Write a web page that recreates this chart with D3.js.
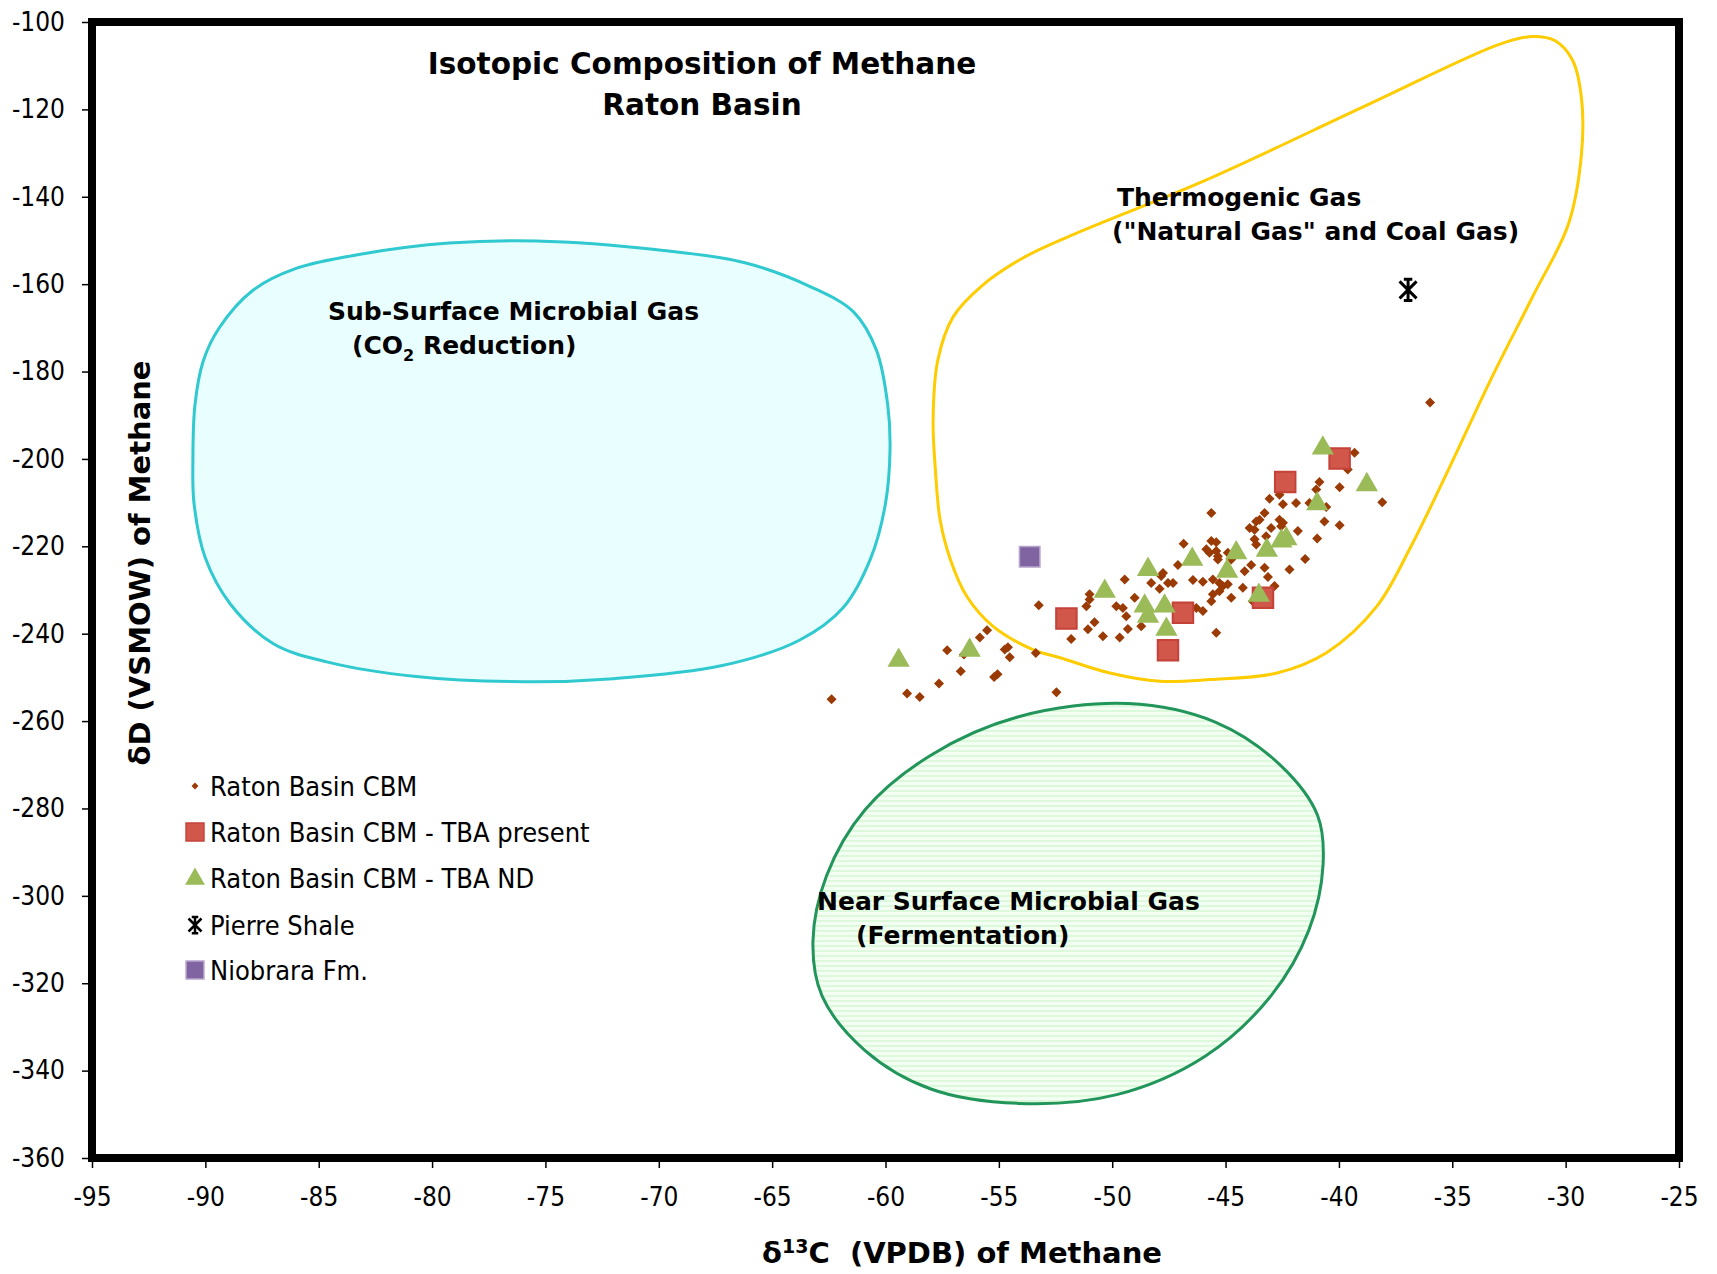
<!DOCTYPE html>
<html><head><meta charset="utf-8">
<script src="https://cdn.jsdelivr.net/npm/d3@7"></script>
<style>body{margin:0;background:#fff}svg{display:block}</style>
</head><body>
<svg id="chart" width="1717" height="1274"></svg>
<script>
// ---- data ----
const xTicks = [-95,-90,-85,-80,-75,-70,-65,-60,-55,-50,-45,-40,-35,-30,-25];
const yTicks = [-100,-120,-140,-160,-180,-200,-220,-240,-260,-280,-300,-320,-340,-360];

const ratonCBM = [
[-39.31,-198.6],[-39.61,-202.4],[-40.86,-205.3],[-41.0,-207.0],[-39.97,-206.5],[-38.09,-209.9],[-43.06,-209.1],[-42.62,-208.2],
[-42.47,-210.4],[-41.89,-210.1],[-41.30,-210.1],[-40.56,-211.0],[-45.63,-212.4],[-43.28,-212.4],[-43.50,-213.9],[-43.65,-214.3],
[-43.94,-215.8],[-43.72,-216.2],[-42.99,-215.8],[-42.62,-213.9],[-42.47,-214.6],[-42.55,-215.4],[-41.81,-216.5],[-40.64,-214.3],
[-39.97,-215.2],[-43.21,-217.7],[-43.72,-218.4],[-43.65,-219.6],[-40.96,-218.2],[-46.85,-219.4],[-45.63,-218.8],[-45.41,-219.1],
[-45.85,-220.7],[-45.71,-221.5],[-45.41,-221.1],[-45.34,-222.3],[-45.34,-223.0],[-44.90,-221.5],[-47.10,-224.3],[-44.75,-223.0],
[-43.87,-224.3],[-44.16,-225.7],[-43.28,-224.9],[-43.13,-227.0],[-42.18,-225.3],[-41.49,-222.9],[-49.45,-227.6],[-47.76,-226.1],
[-47.84,-226.8],[-48.28,-228.4],[-47.54,-228.4],[-47.32,-228.4],[-46.44,-227.7],[-46.0,-228.1],[-45.56,-227.6],[-45.27,-228.4],
[-45.12,-229.1],[-44.9,-228.7],[-47.91,-229.7],[-45.56,-231.0],[-45.27,-230.3],[-44.24,-229.5],[-44.75,-231.8],[-45.63,-232.6],
[-43.80,-232.6],[-42.84,-229.1],[-51.0,-231.0],[-51.0,-232.2],[-51.14,-233.7],[-49.82,-233.7],[-49.53,-234.1],[-49.01,-231.8],
[-49.38,-236.0],[-46.29,-234.1],[-46.0,-234.8],[-50.78,-237.4],[-51.07,-239.0],[-50.41,-240.6],[-49.67,-240.9],[-49.31,-238.9],
[-48.72,-238.3],[-45.41,-239.8],[-51.81,-241.2],
[-62.38,-255.0],[-59.05,-253.7],[-58.49,-254.5],[-57.64,-251.4],[-56.68,-248.6],[-57.28,-243.8],[-55.84,-240.9],[-55.52,-239.2],
[-54.74,-243.6],[-54.6,-243.1],[-54.52,-245.4],[-55.21,-249.9],[-55.06,-249.3],[-53.37,-244.4],[-52.46,-253.4],[-53.24,-233.5],
[-56.54,-244.75],[-35.98,-187.1]
];
const tbaPresent = [[-52.02,-236.5],[-46.88,-235.2],[-47.54,-243.8],[-43.35,-231.8],[-42.37,-205.3],[-39.97,-199.9]];
const tbaND = [[-50.33,-230.3],[-48.42,-225.3],[-48.57,-233.7],[-48.42,-236.0],[-47.69,-233.7],[-47.61,-239.0],
  [-46.47,-223.0],[-44.93,-225.7],[-44.53,-221.5],[-43.53,-231.2],[-43.18,-220.9],[-42.54,-218.8],[-42.32,-218.3],
  [-40.96,-210.3],[-40.71,-197.5],[-38.77,-205.9],[-59.42,-246.1],[-56.29,-243.8]];
const pierreShale = [[-36.95,-161.3]];
const niobrara = [[-53.64,-222.4]];

// field outlines (data units)
const subSurfaceField = [[-75.4,-150.1],[-70.07,-152.1],[-66.2,-155.1],[-63.3,-160.6],[-61.4,-166.4],[-60.4,-175.1],
  [-59.9,-187.7],[-59.8,-197.7],[-60.0,-210.2],[-60.65,-222.7],[-61.86,-234.0],[-63.8,-241.5],[-67.2,-247.3],[-72.0,-250.3],
  [-75.9,-251.0],[-80.7,-249.8],[-84.6,-246.5],[-87.0,-242.3],[-88.9,-233.2],[-90.0,-222.7],[-90.5,-210.2],[-90.55,-200.2],
  [-90.46,-187.7],[-90.1,-177.7],[-89.4,-170.1],[-87.9,-161.4],[-86.0,-156.4],[-83.1,-153.1],[-79.25,-150.6]];
const thermogenicField = [[-31.43,-103.3],[-30.46,-104.3],[-29.69,-108.8],[-29.3,-117.5],[-29.3,-130.1],[-29.88,-146.3],
  [-31.43,-162.6],[-33.26,-181.4],[-35.1,-201.7],[-36.84,-220.2],[-38.33,-233.75],[-40.53,-244.3],
  [-42.73,-249.0],[-45.68,-250.5],[-47.9,-250.9],[-50.1,-249.0],[-52.3,-245.5],[-53.47,-243.7],[-55.24,-238.4],
  [-56.41,-231.5],[-57.14,-223.0],[-57.59,-214.0],[-57.8,-202.4],[-57.9,-191.1],[-57.7,-177.6],[-57.03,-167.6],
  [-55.8,-160.6],[-53.9,-153.9],[-51.7,-148.6],[-45.92,-136.3],[-38.67,-118.8],[-32.87,-105.0]];
const nearSurfaceField = [[-49.3,-256.0],[-45.43,-260.3],[-42.54,-270.3],[-40.94,-281.6],[-40.7,-292.9],[-41.33,-307.9],
  [-43.0,-322.9],[-45.9,-336.7],[-49.8,-345.5],[-54.13,-347.5],[-58.0,-344.2],[-60.9,-335.4],[-62.8,-322.9],[-63.2,-310.4],
  [-62.6,-295.4],[-60.9,-280.3],[-58.0,-267.8],[-54.13,-259.0]];

const legendLabels = ["Raton Basin CBM","Raton Basin CBM - TBA present","Raton Basin CBM - TBA ND","Pierre Shale","Niobrara Fm."];

// ---- drawing ----
const svg = d3.select("#chart");
const x = d3.scaleLinear().domain([-95,-25]).range([92,1679]);
const y = d3.scaleLinear().domain([-100,-360]).range([22,1158]);

const defs = svg.append("defs");
const pat = defs.append("pattern").attr("id","hatch").attr("patternUnits","userSpaceOnUse")
  .attr("width",8).attr("height",5);
pat.append("rect").attr("width",8).attr("height",5).attr("fill","#f3fff3");
pat.append("rect").attr("width",8).attr("height",2).attr("fill","#dcf9dc");

const line = d3.line().x(d=>x(d[0])).y(d=>y(d[1])).curve(d3.curveCatmullRomClosed.alpha(0.5));

svg.append("path").attr("d",line(subSurfaceField)).attr("fill","#e9fefe").attr("stroke","#2fc9cf").attr("stroke-width",3);
svg.append("path").attr("d",line(nearSurfaceField)).attr("fill","url(#hatch)").attr("stroke","#21955a").attr("stroke-width",3);
svg.append("path").attr("d",line(thermogenicField)).attr("fill","none").attr("stroke","#ffcc00").attr("stroke-width",3);

// frame
svg.append("rect").attr("x",x(-95)).attr("y",y(-100)).attr("width",x(-25)-x(-95)).attr("height",y(-360)-y(-100))
  .attr("fill","none").attr("stroke","#000").attr("stroke-width",8);

// axes
const tickFont = "'DejaVu Sans Condensed','DejaVu Sans',sans-serif";
const yAxis = svg.append("g").attr("transform","translate(88,0)")
  .call(d3.axisLeft(y).tickValues(yTicks).tickSize(6).tickPadding(17).tickFormat(d=>String(d)));
const xAxis = svg.append("g").attr("transform","translate(0,1162)")
  .call(d3.axisBottom(x).tickValues(xTicks).tickSize(6).tickPadding(20).tickFormat(d=>String(d)));
[yAxis,xAxis].forEach(g=>{
  g.select(".domain").remove();
  g.selectAll(".tick line").attr("stroke","#000").attr("stroke-width",1.5);
  g.selectAll(".tick text").attr("fill","#000").style("font-family",tickFont).style("font-size","26px");
});

// markers
const diamond = d3.symbol().type(d3.symbolSquare).size(50)();
const star = (s)=>`M${-s},${-s}L${s},${s}M${-s},${s}L${s},${-s}M0,${-s*1.25}L0,${s*1.25}M${-s*0.5},${-s*1.25}L${s*0.5},${-s*1.25}M${-s*0.5},${s*1.25}L${s*0.5},${s*1.25}`;

svg.append("g").selectAll("path").data(ratonCBM).join("path")
  .attr("d",diamond).attr("transform",d=>`translate(${x(d[0])},${y(d[1])}) rotate(45)`).attr("fill","#9a3a05");
svg.append("g").selectAll("path").data(niobrara).join("path")
  .attr("d",d3.symbol().type(d3.symbolSquare).size(420)()).attr("transform",d=>`translate(${x(d[0])},${y(d[1])})`)
  .attr("fill","#8064a2").attr("stroke","#b6a4cc").attr("stroke-width",1.5);
svg.append("g").selectAll("path").data(tbaPresent).join("path")
  .attr("d",d3.symbol().type(d3.symbolSquare).size(420)()).attr("transform",d=>`translate(${x(d[0])},${y(d[1])})`)
  .attr("fill","#d1574a").attr("stroke","#c44238").attr("stroke-width",2);
svg.append("g").selectAll("path").data(tbaND).join("path")
  .attr("d",d3.symbol().type(d3.symbolTriangle).size(215)()).attr("transform",d=>`translate(${x(d[0])},${y(d[1])})`)
  .attr("fill","#9bbb59");
svg.append("g").selectAll("path").data(pierreShale).join("path")
  .attr("d",star(8.5)).attr("transform",d=>`translate(${x(d[0])},${y(d[1])})`)
  .attr("fill","none").attr("stroke","#000").attr("stroke-width",3);

// titles & labels
const boldFont = "'DejaVu Sans',Verdana,sans-serif";
const T = (txt,xx,yy,size,anchor)=>svg.append("text").attr("x",xx).attr("y",yy).attr("text-anchor",anchor||"start")
  .style("font-family",boldFont).style("font-weight","bold").style("font-size",size+"px").attr("fill","#000").text(txt);
T("Isotopic Composition of Methane",702,74,29.5,"middle");
T("Raton Basin",702,115,29.5,"middle");
T("Sub-Surface Microbial Gas",328,320,25);
const co2 = svg.append("text").attr("x",352).attr("y",354).style("font-family",boldFont).style("font-weight","bold").style("font-size","25px");
co2.append("tspan").text("(CO");
co2.append("tspan").attr("dy",7).style("font-size","16px").text("2");
co2.append("tspan").attr("dy",-7).text(" Reduction)");
T("Thermogenic Gas",1117,206,25);
T("(\"Natural Gas\" and Coal Gas)",1112,240,25);
T("Near Surface Microbial Gas",817,910,25);
T("(Fermentation)",856,944,25);

// axis titles
svg.append("text").attr("transform","translate(150,563) rotate(-90)").attr("text-anchor","middle")
  .style("font-family",boldFont).style("font-weight","bold").style("font-size","29px").text("δD (VSMOW) of Methane");
const xt = svg.append("text").attr("x",962).attr("y",1263).attr("text-anchor","middle")
  .style("font-family",boldFont).style("font-weight","bold").style("font-size","29px");
xt.append("tspan").text("δ");
xt.append("tspan").attr("dy",-10).style("font-size","19px").text("13");
xt.append("tspan").attr("dy",10).text("C\u00a0 (VPDB) of Methane");

// legend
const legY = [786,832,878,925,970];
const lg = svg.append("g");
lg.append("path").attr("d",d3.symbol().type(d3.symbolSquare).size(24)()).attr("transform",`translate(195,${legY[0]}) rotate(45)`).attr("fill","#9a3a05");
lg.append("path").attr("d",d3.symbol().type(d3.symbolSquare).size(320)()).attr("transform",`translate(195,${legY[1]})`).attr("fill","#d1574a").attr("stroke","#c44238").attr("stroke-width",1.5);
lg.append("path").attr("d",d3.symbol().type(d3.symbolTriangle).size(170)()).attr("transform",`translate(195,${legY[2]+1})`).attr("fill","#9bbb59");
lg.append("path").attr("d",star(6.5)).attr("transform",`translate(195,${legY[3]})`).attr("fill","none").attr("stroke","#000").attr("stroke-width",2.5);
lg.append("path").attr("d",d3.symbol().type(d3.symbolSquare).size(320)()).attr("transform",`translate(195,${legY[4]})`).attr("fill","#8064a2").attr("stroke","#b6a4cc").attr("stroke-width",1.5);
lg.selectAll("text").data(legendLabels).join("text").attr("x",210).attr("y",(d,i)=>legY[i]+10)
  .style("font-family","'DejaVu Sans Condensed','DejaVu Sans',sans-serif").style("font-size","27px").attr("fill","#000").text(d=>d);
</script>
</body></html>
